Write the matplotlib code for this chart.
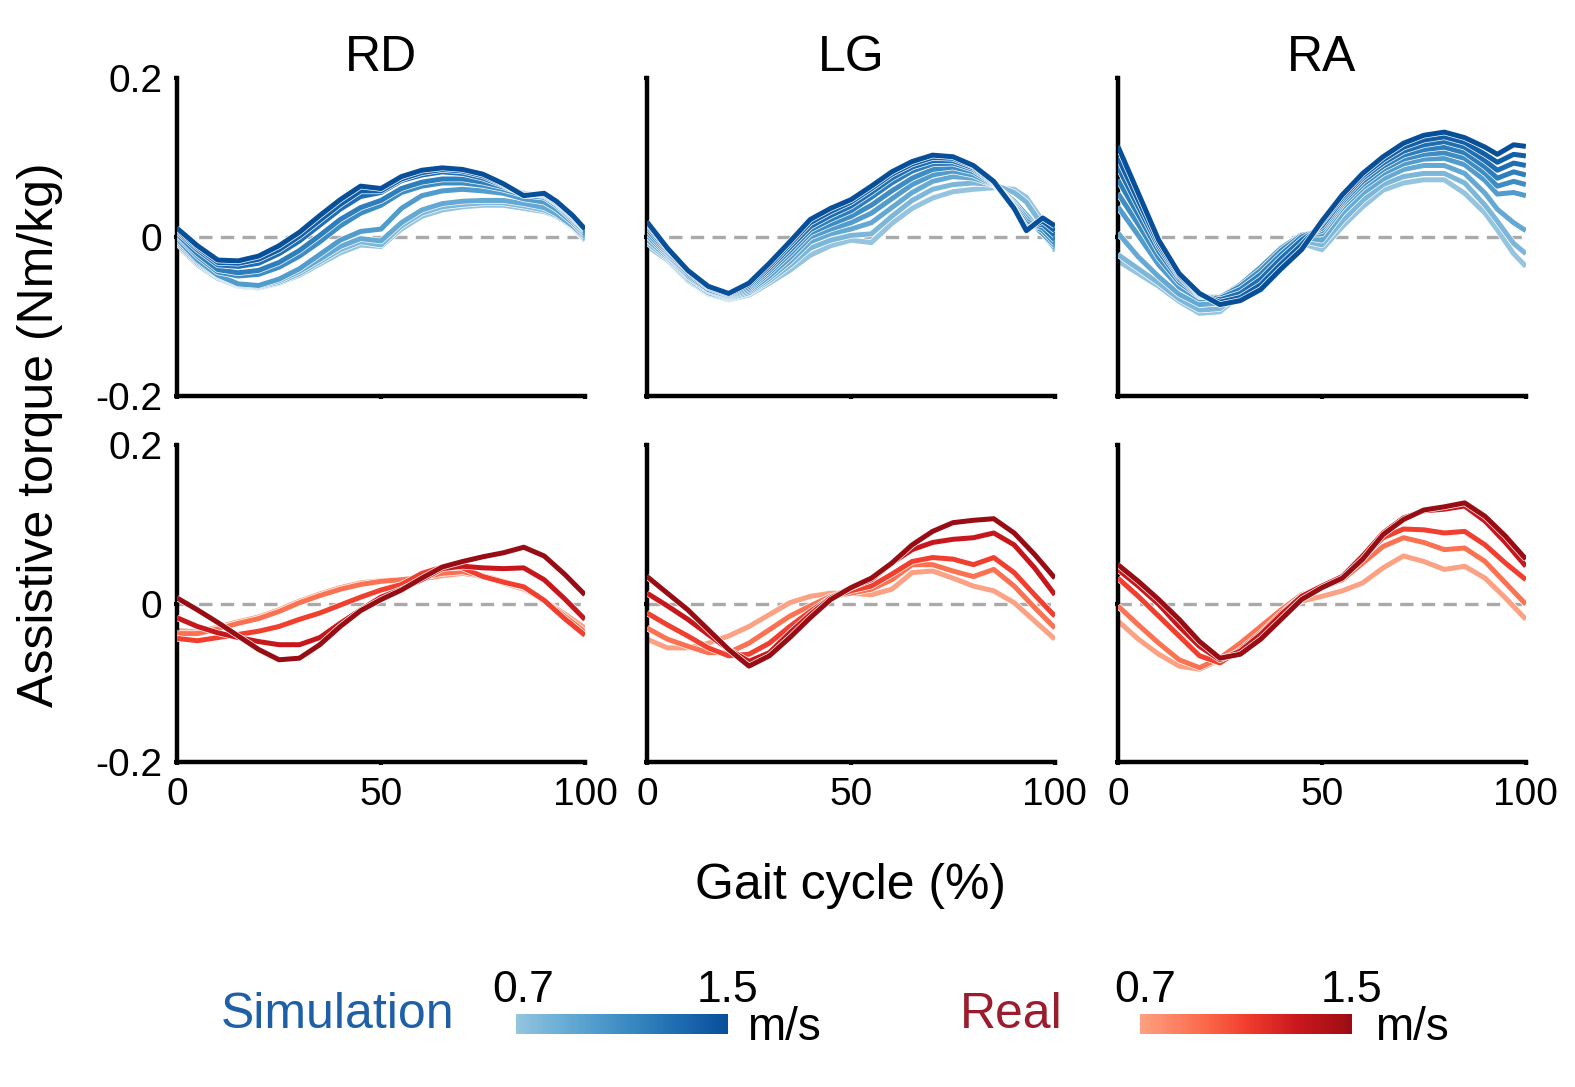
import numpy as np
import matplotlib
matplotlib.use('Agg')
import matplotlib.pyplot as plt
from matplotlib.colors import ListedColormap, Normalize
import matplotlib.patheffects as pe

plt.rcParams['font.family'] = ['Liberation Sans', 'DejaVu Sans']

# gait cycle grids (%)
pct_sim = [0, 5, 10, 15, 20, 25, 30, 35, 40, 45, 50, 55, 60, 65, 70, 75, 80, 85, 90, 93, 97, 100]
pct_real = [0, 5, 10, 15, 20, 25, 30, 35, 40, 45, 50, 55, 60, 65, 70, 75, 80, 85, 90, 95, 100]

speeds_sim = [0.7, 0.8, 0.9, 1.0, 1.1, 1.2, 1.3, 1.4, 1.5]
speeds_real = [0.7, 0.9, 1.1, 1.3, 1.5]

# simulation torque (Nm/kg), one row per speed, slow -> fast
rd_sim = [
    [-0.010, -0.035, -0.052, -0.062, -0.064, -0.058, -0.048, -0.034, -0.020, -0.010, -0.012, 0.010, 0.026, 0.034, 0.038, 0.040, 0.040, 0.036, 0.032, 0.026, 0.012, -0.004],
    [-0.008, -0.033, -0.050, -0.061, -0.063, -0.057, -0.046, -0.031, -0.016, -0.006, -0.010, 0.014, 0.030, 0.038, 0.041, 0.043, 0.043, 0.039, 0.034, 0.027, 0.013, -0.002],
    [-0.005, -0.031, -0.049, -0.060, -0.062, -0.055, -0.043, -0.028, -0.012, -0.002, -0.005, 0.018, 0.034, 0.042, 0.045, 0.046, 0.046, 0.042, 0.037, 0.029, 0.014, 0.000],
    [-0.002, -0.029, -0.048, -0.059, -0.061, -0.053, -0.040, -0.022, -0.004, 0.007, 0.010, 0.036, 0.052, 0.058, 0.060, 0.058, 0.055, 0.048, 0.044, 0.035, 0.018, 0.002],
    [0.002, -0.024, -0.044, -0.049, -0.047, -0.038, -0.024, -0.006, 0.014, 0.030, 0.040, 0.056, 0.064, 0.068, 0.068, 0.065, 0.060, 0.053, 0.050, 0.040, 0.021, 0.004],
    [0.004, -0.021, -0.041, -0.045, -0.042, -0.032, -0.017, 0.002, 0.022, 0.037, 0.046, 0.061, 0.069, 0.073, 0.073, 0.069, 0.063, 0.055, 0.052, 0.042, 0.023, 0.006],
    [0.007, -0.016, -0.035, -0.037, -0.033, -0.021, -0.005, 0.015, 0.035, 0.051, 0.056, 0.071, 0.078, 0.082, 0.080, 0.074, 0.065, 0.054, 0.053, 0.043, 0.025, 0.008],
    [0.009, -0.013, -0.032, -0.033, -0.028, -0.016, 0.001, 0.021, 0.041, 0.058, 0.058, 0.073, 0.081, 0.085, 0.083, 0.077, 0.066, 0.053, 0.054, 0.044, 0.026, 0.009],
    [0.011, -0.011, -0.029, -0.030, -0.024, -0.011, 0.006, 0.027, 0.047, 0.064, 0.061, 0.076, 0.084, 0.087, 0.085, 0.079, 0.067, 0.052, 0.055, 0.045, 0.027, 0.010],
]
lg_sim = [
    [-0.011, -0.029, -0.055, -0.072, -0.079, -0.073, -0.058, -0.042, -0.023, -0.011, -0.004, -0.007, 0.017, 0.036, 0.049, 0.057, 0.060, 0.062, 0.060, 0.050, 0.020, -0.018],
    [-0.007, -0.027, -0.054, -0.071, -0.078, -0.071, -0.055, -0.036, -0.014, -0.004, 0.002, 0.004, 0.026, 0.046, 0.060, 0.066, 0.068, 0.066, 0.056, 0.044, 0.014, -0.016],
    [-0.003, -0.025, -0.052, -0.070, -0.077, -0.070, -0.052, -0.031, -0.006, 0.004, 0.010, 0.018, 0.037, 0.056, 0.070, 0.076, 0.074, 0.066, 0.045, 0.028, 0.004, -0.014],
    [0.002, -0.023, -0.050, -0.068, -0.076, -0.068, -0.049, -0.026, 0.000, 0.010, 0.018, 0.030, 0.048, 0.066, 0.078, 0.083, 0.078, 0.066, 0.042, 0.024, 0.004, -0.011],
    [0.006, -0.021, -0.049, -0.067, -0.075, -0.066, -0.045, -0.021, 0.005, 0.016, 0.026, 0.040, 0.058, 0.074, 0.085, 0.088, 0.082, 0.067, 0.040, 0.020, 0.008, -0.008],
    [0.010, -0.019, -0.047, -0.066, -0.074, -0.064, -0.042, -0.017, 0.009, 0.022, 0.033, 0.050, 0.068, 0.083, 0.092, 0.093, 0.085, 0.068, 0.038, 0.016, 0.012, -0.004],
    [0.014, -0.017, -0.045, -0.064, -0.073, -0.062, -0.039, -0.013, 0.013, 0.027, 0.039, 0.056, 0.074, 0.088, 0.096, 0.096, 0.087, 0.068, 0.036, 0.012, 0.016, 0.002],
    [0.017, -0.015, -0.043, -0.063, -0.072, -0.060, -0.036, -0.009, 0.018, 0.032, 0.044, 0.061, 0.079, 0.092, 0.100, 0.099, 0.089, 0.069, 0.036, 0.010, 0.020, 0.008],
    [0.019, -0.014, -0.042, -0.062, -0.071, -0.058, -0.033, -0.006, 0.022, 0.036, 0.047, 0.064, 0.082, 0.095, 0.103, 0.101, 0.090, 0.070, 0.036, 0.008, 0.024, 0.014],
]
ra_sim = [
    [-0.030, -0.046, -0.062, -0.081, -0.096, -0.094, -0.073, -0.048, -0.021, -0.008, -0.016, 0.013, 0.038, 0.059, 0.068, 0.072, 0.072, 0.055, 0.030, 0.009, -0.021, -0.037],
    [-0.022, -0.040, -0.058, -0.078, -0.092, -0.090, -0.070, -0.044, -0.018, -0.004, -0.010, 0.020, 0.046, 0.066, 0.076, 0.080, 0.080, 0.068, 0.040, 0.020, -0.008, -0.021],
    [0.005, -0.025, -0.050, -0.072, -0.085, -0.083, -0.065, -0.040, -0.016, 0.000, -0.004, 0.030, 0.055, 0.073, 0.085, 0.090, 0.090, 0.080, 0.055, 0.035, 0.018, 0.008],
    [0.038, 0.002, -0.035, -0.063, -0.078, -0.076, -0.060, -0.038, -0.014, 0.003, 0.004, 0.037, 0.062, 0.080, 0.092, 0.098, 0.099, 0.091, 0.071, 0.054, 0.056, 0.052],
    [0.055, 0.016, -0.026, -0.057, -0.075, -0.076, -0.062, -0.042, -0.017, 0.002, 0.008, 0.041, 0.066, 0.085, 0.098, 0.104, 0.106, 0.099, 0.080, 0.064, 0.070, 0.066],
    [0.072, 0.028, -0.018, -0.053, -0.074, -0.077, -0.066, -0.047, -0.022, 0.000, 0.011, 0.044, 0.070, 0.089, 0.103, 0.110, 0.113, 0.106, 0.088, 0.074, 0.082, 0.078],
    [0.088, 0.038, -0.012, -0.050, -0.073, -0.079, -0.071, -0.053, -0.027, -0.004, 0.014, 0.047, 0.074, 0.093, 0.108, 0.116, 0.120, 0.113, 0.096, 0.084, 0.093, 0.090],
    [0.100, 0.046, -0.008, -0.048, -0.072, -0.082, -0.076, -0.060, -0.034, -0.010, 0.018, 0.050, 0.077, 0.097, 0.113, 0.122, 0.126, 0.119, 0.104, 0.094, 0.104, 0.102],
    [0.114, 0.055, -0.004, -0.046, -0.071, -0.085, -0.080, -0.066, -0.040, -0.016, 0.020, 0.053, 0.080, 0.101, 0.118, 0.128, 0.132, 0.125, 0.113, 0.104, 0.116, 0.114],
]

# real (measured) torque
rd_real = [
    [-0.034, -0.036, -0.030, -0.023, -0.017, -0.008, 0.003, 0.012, 0.020, 0.026, 0.029, 0.030, 0.031, 0.035, 0.038, 0.034, 0.026, 0.018, 0.004, -0.013, -0.031],
    [-0.038, -0.038, -0.032, -0.025, -0.019, -0.010, 0.001, 0.010, 0.018, 0.024, 0.028, 0.030, 0.033, 0.038, 0.040, 0.035, 0.028, 0.020, 0.004, -0.016, -0.036],
    [-0.044, -0.047, -0.043, -0.039, -0.035, -0.029, -0.020, -0.012, -0.002, 0.008, 0.017, 0.024, 0.038, 0.046, 0.045, 0.034, 0.027, 0.021, 0.004, -0.019, -0.040],
    [-0.018, -0.029, -0.037, -0.043, -0.048, -0.052, -0.052, -0.043, -0.025, -0.008, 0.008, 0.018, 0.030, 0.044, 0.047, 0.045, 0.044, 0.045, 0.030, 0.006, -0.020],
    [0.007, -0.008, -0.024, -0.041, -0.058, -0.071, -0.069, -0.052, -0.029, -0.009, 0.005, 0.017, 0.032, 0.046, 0.053, 0.059, 0.064, 0.071, 0.060, 0.037, 0.011],
]
lg_real = [
    [-0.045, -0.056, -0.056, -0.050, -0.041, -0.029, -0.014, 0.001, 0.009, 0.013, 0.013, 0.011, 0.018, 0.039, 0.041, 0.032, 0.022, 0.016, 0.001, -0.022, -0.045],
    [-0.031, -0.045, -0.054, -0.062, -0.062, -0.050, -0.033, -0.016, -0.003, 0.009, 0.013, 0.018, 0.030, 0.049, 0.049, 0.041, 0.034, 0.043, 0.022, -0.005, -0.031],
    [-0.012, -0.027, -0.041, -0.056, -0.066, -0.064, -0.050, -0.029, -0.010, 0.007, 0.016, 0.022, 0.037, 0.053, 0.058, 0.056, 0.049, 0.058, 0.039, 0.011, -0.016],
    [0.013, -0.003, -0.020, -0.039, -0.058, -0.073, -0.062, -0.037, -0.014, 0.007, 0.020, 0.030, 0.051, 0.068, 0.077, 0.081, 0.083, 0.089, 0.074, 0.045, 0.011],
    [0.034, 0.013, -0.008, -0.033, -0.058, -0.079, -0.066, -0.043, -0.018, 0.005, 0.020, 0.032, 0.051, 0.074, 0.091, 0.102, 0.105, 0.107, 0.089, 0.062, 0.032],
]
ra_real = [
    [-0.022, -0.045, -0.064, -0.079, -0.083, -0.071, -0.050, -0.029, -0.010, 0.003, 0.009, 0.016, 0.026, 0.045, 0.060, 0.053, 0.043, 0.047, 0.032, 0.007, -0.020],
    [-0.003, -0.027, -0.050, -0.071, -0.081, -0.069, -0.050, -0.029, -0.008, 0.011, 0.020, 0.030, 0.051, 0.072, 0.083, 0.077, 0.068, 0.070, 0.053, 0.026, -0.001],
    [0.032, 0.009, -0.016, -0.041, -0.066, -0.075, -0.058, -0.037, -0.012, 0.009, 0.022, 0.034, 0.058, 0.083, 0.094, 0.093, 0.089, 0.091, 0.074, 0.051, 0.030],
    [0.043, 0.022, -0.001, -0.029, -0.054, -0.071, -0.060, -0.039, -0.014, 0.009, 0.022, 0.034, 0.060, 0.089, 0.108, 0.117, 0.119, 0.123, 0.104, 0.077, 0.047],
    [0.049, 0.028, 0.005, -0.020, -0.048, -0.069, -0.064, -0.045, -0.020, 0.005, 0.020, 0.032, 0.056, 0.087, 0.106, 0.118, 0.122, 0.127, 0.110, 0.085, 0.056],
]

titles = ['RD', 'LG', 'RA']

blue_cmap = ListedColormap(plt.cm.Blues(np.linspace(0.40, 0.88, 256)))
red_cmap = ListedColormap(plt.cm.Reds(np.linspace(0.33, 0.90, 256)))
norm = Normalize(0.7, 1.5)

fig = plt.figure(figsize=(15.75, 10.87), dpi=100)

lefts = [0.1124, 0.4108, 0.7098]
w = 0.259
rows = [(0.6357, 0.2925), (0.2990, 0.2916)]

lw = 3.6
fs_tick = 28

def style_ax(ax, show_x, show_y):
    ax.set_xlim(0, 100)
    ax.set_ylim(-0.2, 0.2)
    for s in ['top', 'right']:
        ax.spines[s].set_visible(False)
    for s in ['left', 'bottom']:
        ax.spines[s].set_linewidth(3.2)
    ax.set_xticks([0, 50, 100])
    ax.set_yticks([-0.2, 0, 0.2])
    ax.set_yticklabels(['-0.2', '0', '0.2'])
    ax.tick_params(length=2.5, width=3, labelsize=fs_tick, pad=8)
    if not show_x:
        ax.set_xticklabels([])
    if not show_y:
        ax.set_yticklabels([])
    ax.axhline(0, color='#aaaaaa', lw=2.4, ls=(0, (4, 2.5)), zorder=1)

sim_sets = [rd_sim, lg_sim, ra_sim]
real_sets = [rd_real, lg_real, ra_real]
edge = [pe.Stroke(linewidth=lw + 1.0, foreground='white'), pe.Normal()]

for j in range(3):
    ax = fig.add_axes([lefts[j], rows[0][0], w, rows[0][1]])
    style_ax(ax, False, j == 0)
    for k, sp in enumerate(speeds_sim):
        ax.plot(pct_sim, sim_sets[j][k], color=blue_cmap(norm(sp)), lw=lw,
                solid_joinstyle='round', solid_capstyle='butt', zorder=2 + k,
                path_effects=edge)
    ax.text(0.5, 1.063, titles[j], transform=ax.transAxes, ha='center', va='center', fontsize=36)

    ax = fig.add_axes([lefts[j], rows[1][0], w, rows[1][1]])
    style_ax(ax, True, j == 0)
    for k, sp in enumerate(speeds_real):
        ax.plot(pct_real, real_sets[j][k], color=red_cmap(norm(sp)), lw=lw,
                solid_joinstyle='round', solid_capstyle='butt', zorder=2 + k,
                path_effects=edge)

fig.text(0.0254, 0.600, 'Assistive torque (Nm/kg)', rotation=90, ha='center', va='center', fontsize=36)
fig.text(0.540, 0.185, 'Gait cycle (%)', ha='center', va='center', fontsize=36)

# legends as colour bars
fig.text(0.214, 0.0666, 'Simulation', ha='center', va='center', fontsize=36, color='#1f5fa8')
fig.text(0.642, 0.0666, 'Real', ha='center', va='center', fontsize=36, color='#9b1c2c')

for cmap, left, lab_x in [(blue_cmap, 0.3276, (0.332, 0.462, 0.498)),
                          (red_cmap, 0.7238, (0.727, 0.858, 0.8965))]:
    cax = fig.add_axes([left, 0.0486, 0.1346, 0.0184])
    cb = matplotlib.colorbar.ColorbarBase(cax, cmap=cmap, norm=norm, orientation='horizontal')
    cb.outline.set_visible(False)
    cax.set_xticks([])
    cax.set_yticks([])
    fig.text(lab_x[0], 0.0887, '0.7', ha='center', va='center', fontsize=32)
    fig.text(lab_x[1], 0.0887, '1.5', ha='center', va='center', fontsize=32)
    fig.text(lab_x[2], 0.0546, 'm/s', ha='center', va='center', fontsize=33)

plt.savefig('out.png', dpi=100)
